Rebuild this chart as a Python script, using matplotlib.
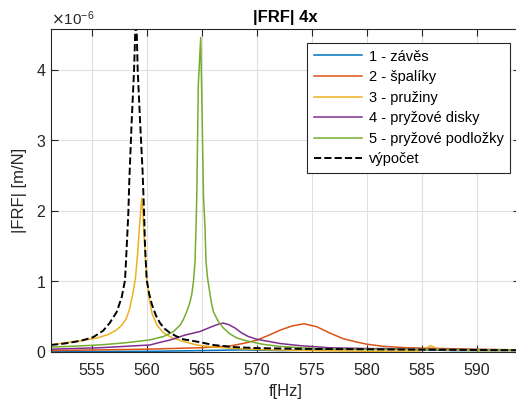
import numpy as np
import matplotlib
matplotlib.use("Agg")
import matplotlib.pyplot as plt
from matplotlib.ticker import ScalarFormatter

# odectene hodnoty z grafu, |FRF| v jednotkach 1e-6 m/N
f_zaves = [551.27, 560.4, 565.0, 568.6, 572.3, 578.7, 581.5, 583.3, 587.9, 593.9]
h_zaves = [0.005, 0.01, 0.02, 0.03, 0.02, 0.04, 0.05, 0.04, 0.02, 0.02]

f_spaliky = [551.27, 555.7, 560.0, 564.8, 567.55, 569.0, 570.0, 571.1, 572.1, 573.2,
             574.27, 575.4, 576.6, 577.8, 579.1, 580.0, 581.5, 583.6, 589.6, 593.9]
h_spaliky = [0.02, 0.03, 0.04, 0.06, 0.085, 0.13, 0.17, 0.24, 0.31, 0.37,
             0.40, 0.36, 0.27, 0.19, 0.14, 0.11, 0.08, 0.06, 0.04, 0.03]

f_pruziny = [551.27, 552.5, 554.0, 555.5, 556.5, 557.2, 557.7, 558.1, 558.4, 558.7,
             558.95, 559.15, 559.3, 559.42, 559.52, 559.62, 559.7, 559.8, 559.95, 560.15,
             560.45, 560.9, 561.5, 562.3, 563.3, 564.5, 566.0, 568.0, 571.0, 575.0,
             580.0, 584.8, 585.3, 585.8, 586.2, 586.8, 590.0, 593.9]
h_pruziny = [0.10, 0.13, 0.16, 0.20, 0.25, 0.31, 0.38, 0.47, 0.60, 0.82,
             1.05, 1.40, 1.75, 2.00, 2.18, 2.00, 1.75, 1.45, 1.10, 0.80,
             0.55, 0.38, 0.27, 0.20, 0.15, 0.10, 0.07, 0.05, 0.03, 0.02,
             0.01, 0.015, 0.05, 0.09, 0.06, 0.03, 0.02, 0.02]

f_disky = [551.27, 555.7, 558.0, 560.3, 561.0, 562.1, 563.45, 564.8, 565.9, 566.4,
           566.9, 567.4, 568.0, 568.6, 569.2, 570.0, 570.7, 572.1, 573.9, 576.6,
           583.0, 593.9]
h_disky = [0.04, 0.06, 0.08, 0.10, 0.13, 0.17, 0.24, 0.29, 0.36, 0.39,
           0.41, 0.39, 0.34, 0.27, 0.22, 0.18, 0.16, 0.12, 0.09, 0.06,
           0.04, 0.03]

f_podlozky = [551.27, 553.0, 555.7, 558.0, 560.2, 561.5, 562.4, 563.0, 563.3, 563.6,
              563.85, 564.06, 564.22, 564.36, 564.45, 564.52, 564.66, 564.88, 565.13, 565.27,
              565.36, 565.5, 565.73, 565.88, 566.03, 566.45, 566.94, 567.5, 568.15, 569.0,
              570.5, 572.0, 574.0, 576.6, 593.9]
h_podlozky = [0.07, 0.08, 0.10, 0.13, 0.17, 0.22, 0.29, 0.38, 0.46, 0.57,
              0.68, 0.81, 1.00, 1.28, 1.76, 2.21, 3.79, 4.46, 2.20, 1.76,
              1.28, 1.05, 0.81, 0.68, 0.57, 0.44, 0.34, 0.26, 0.20, 0.16,
              0.11, 0.08, 0.06, 0.04, 0.03]

f_vypocet = [551.27, 552.5, 554.0, 555.1, 556.0, 556.6, 557.25, 557.7, 558.0, 558.15,
             558.3, 558.39, 558.61, 558.82, 559.0, 559.15, 559.36, 559.59, 559.73, 559.82,
             559.97, 560.2, 560.43, 560.8, 561.18, 561.6, 562.1, 562.7, 563.3, 564.8,
             566.0, 567.8, 570.0, 573.9, 583.0, 593.9]
h_vypocet = [0.10, 0.12, 0.16, 0.21, 0.30, 0.41, 0.57, 0.78, 1.02, 1.49,
             1.97, 2.44, 3.29, 4.00, 4.90, 4.00, 3.29, 2.58, 1.97, 1.49,
             1.02, 0.82, 0.68, 0.52, 0.41, 0.33, 0.27, 0.22, 0.18, 0.14,
             0.10, 0.07, 0.055, 0.045, 0.035, 0.025]

serie = [
    (f_zaves, h_zaves, '1 - závěs', (0, 0.447, 0.741)),
    (f_spaliky, h_spaliky, '2 - špalíky', (0.85, 0.325, 0.098)),
    (f_pruziny, h_pruziny, '3 - pružiny', (0.929, 0.694, 0.125)),
    (f_disky, h_disky, '4 - pryžové disky', (0.494, 0.184, 0.556)),
    (f_podlozky, h_podlozky, '5 - pryžové podložky', (0.466, 0.674, 0.188)),
]

plt.rcParams['font.family'] = ['Liberation Sans', 'DejaVu Sans']
seda = (0.15, 0.15, 0.15)

fig = plt.figure(figsize=(5.16, 4.07), dpi=100)
ax = fig.add_axes([51/516, 55/407, 469/516, 323/407])

for f, h, nazev, barva in serie:
    ax.plot(f, np.array(h)*1e-6, color=barva, lw=1.1, label=nazev)
ax.plot(f_vypocet, np.array(h_vypocet)*1e-6, 'k--', lw=1.4, label='výpočet')

ax.set_xlim(551.27, 593.9)
ax.set_ylim(0, 4.58e-6)
ax.set_xticks(np.arange(555, 591, 5))
ax.set_yticks(np.arange(0, 5)*1e-6)
fmt = ScalarFormatter(useMathText=True)
fmt.set_powerlimits((-3, 3))
ax.yaxis.set_major_formatter(fmt)
ax.yaxis.get_offset_text().set_fontsize(11)
ax.yaxis.get_offset_text().set_color(seda)

ax.grid(color=(0.88, 0.88, 0.88), lw=0.8)
ax.set_axisbelow(True)
ax.tick_params(direction='in', top=True, right=True, labelsize=11.5,
               colors=seda, length=5, width=0.8)
ax.tick_params(axis='x', pad=8)
for s in ax.spines.values():
    s.set_color(seda)
    s.set_linewidth(0.8)

ax.set_title('|FRF| 4x', fontsize=12, fontweight='bold', color='black', pad=5)
ax.set_xlabel('f[Hz]', fontsize=12, color=seda, labelpad=4)
ax.set_ylabel('|FRF| [m/N]', fontsize=12, color=seda, labelpad=6)

leg = ax.legend(loc='upper left', bbox_to_anchor=(307/516, 1-43/407),
                bbox_transform=fig.transFigure, borderaxespad=0,
                fontsize=10.5, handlelength=3.3, labelspacing=0.45,
                fancybox=False, framealpha=1, edgecolor=seda, borderpad=0.45,
                handletextpad=0.5)
leg.get_frame().set_linewidth(0.8)

fig.savefig('out.png', dpi=100)
